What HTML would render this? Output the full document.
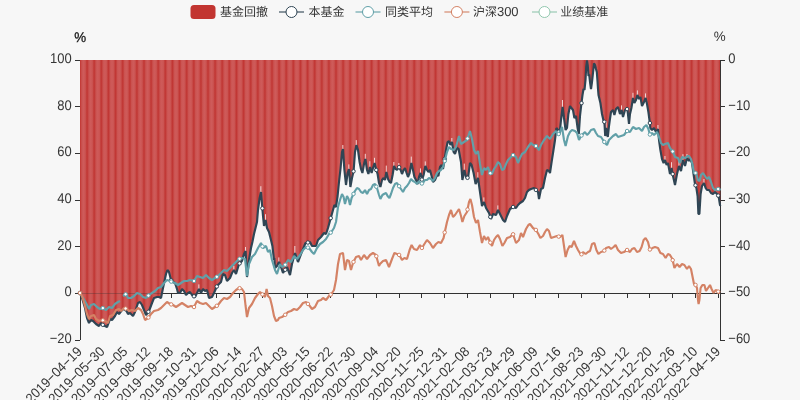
<!DOCTYPE html><html><head><meta charset="utf-8"><title>chart</title><style>html,body{margin:0;padding:0;background:#f7f7f7}svg{display:block}text{text-rendering:geometricPrecision;font-family:"Liberation Sans","Noto Sans CJK SC",sans-serif}</style></head><body><svg width="800" height="400" viewBox="0 0 800 400" font-size="12" fill="#363636">
<defs><linearGradient id="st" x1="80" x2="87.1111" y1="0" y2="0" gradientUnits="userSpaceOnUse" spreadMethod="repeat"><stop offset="0" stop-color="#c13634"/><stop offset="0.1" stop-color="#c4403d"/><stop offset="0.26" stop-color="#cb5452"/><stop offset="0.5" stop-color="#ce5b5a"/><stop offset="0.74" stop-color="#cb5452"/><stop offset="0.9" stop-color="#c4403d"/><stop offset="1" stop-color="#c13634"/></linearGradient></defs>
<rect width="800" height="400" fill="#f7f7f7"/>
<g stroke="#333" stroke-width="1" shape-rendering="crispEdges">
<line x1="80" y1="60" x2="80" y2="340"/>
<line x1="720" y1="60" x2="720" y2="340"/>
<line x1="80" y1="293.3" x2="720" y2="293.3"/>
<line x1="75" y1="60.0" x2="80" y2="60.0"/>
<line x1="720" y1="60.0" x2="725" y2="60.0"/>
<line x1="75" y1="106.7" x2="80" y2="106.7"/>
<line x1="720" y1="106.7" x2="725" y2="106.7"/>
<line x1="75" y1="153.3" x2="80" y2="153.3"/>
<line x1="720" y1="153.3" x2="725" y2="153.3"/>
<line x1="75" y1="200.0" x2="80" y2="200.0"/>
<line x1="720" y1="200.0" x2="725" y2="200.0"/>
<line x1="75" y1="246.7" x2="80" y2="246.7"/>
<line x1="720" y1="246.7" x2="725" y2="246.7"/>
<line x1="75" y1="293.3" x2="80" y2="293.3"/>
<line x1="720" y1="293.3" x2="725" y2="293.3"/>
<line x1="75" y1="340.0" x2="80" y2="340.0"/>
<line x1="720" y1="340.0" x2="725" y2="340.0"/>
<line x1="80.0" y1="293.3" x2="80.0" y2="298.3"/>
<line x1="102.8" y1="293.3" x2="102.8" y2="298.3"/>
<line x1="125.6" y1="293.3" x2="125.6" y2="298.3"/>
<line x1="148.4" y1="293.3" x2="148.4" y2="298.3"/>
<line x1="171.2" y1="293.3" x2="171.2" y2="298.3"/>
<line x1="194.0" y1="293.3" x2="194.0" y2="298.3"/>
<line x1="216.8" y1="293.3" x2="216.8" y2="298.3"/>
<line x1="239.6" y1="293.3" x2="239.6" y2="298.3"/>
<line x1="262.4" y1="293.3" x2="262.4" y2="298.3"/>
<line x1="285.2" y1="293.3" x2="285.2" y2="298.3"/>
<line x1="307.9" y1="293.3" x2="307.9" y2="298.3"/>
<line x1="330.7" y1="293.3" x2="330.7" y2="298.3"/>
<line x1="353.5" y1="293.3" x2="353.5" y2="298.3"/>
<line x1="376.3" y1="293.3" x2="376.3" y2="298.3"/>
<line x1="399.1" y1="293.3" x2="399.1" y2="298.3"/>
<line x1="421.9" y1="293.3" x2="421.9" y2="298.3"/>
<line x1="444.7" y1="293.3" x2="444.7" y2="298.3"/>
<line x1="467.5" y1="293.3" x2="467.5" y2="298.3"/>
<line x1="490.3" y1="293.3" x2="490.3" y2="298.3"/>
<line x1="513.1" y1="293.3" x2="513.1" y2="298.3"/>
<line x1="535.9" y1="293.3" x2="535.9" y2="298.3"/>
<line x1="558.7" y1="293.3" x2="558.7" y2="298.3"/>
<line x1="581.5" y1="293.3" x2="581.5" y2="298.3"/>
<line x1="604.3" y1="293.3" x2="604.3" y2="298.3"/>
<line x1="627.1" y1="293.3" x2="627.1" y2="298.3"/>
<line x1="649.9" y1="293.3" x2="649.9" y2="298.3"/>
<line x1="672.7" y1="293.3" x2="672.7" y2="298.3"/>
<line x1="695.5" y1="293.3" x2="695.5" y2="298.3"/>
<line x1="718.2" y1="293.3" x2="718.2" y2="298.3"/>
</g>
<path d="M80,60 L80.0,293.0 L82.0,298.0 L85.0,308.0 L87.0,318.0 L89.0,323.0 L91.0,320.0 L93.0,321.0 L96.0,324.0 L99.0,326.0 L101.0,323.0 L103.0,325.0 L107.0,327.0 L110.0,319.0 L112.0,320.0 L115.0,316.0 L117.0,312.0 L119.0,314.0 L122.0,310.0 L125.0,308.0 L128.0,314.0 L130.0,313.0 L133.0,316.0 L135.0,312.0 L138.0,303.0 L140.0,302.0 L142.0,305.0 L144.0,310.0 L146.0,315.0 L149.0,311.0 L152.0,303.0 L154.0,298.0 L157.0,297.0 L159.0,297.0 L161.0,298.0 L163.0,288.0 L166.0,274.0 L167.4,270.0 L169.0,272.0 L171.0,280.0 L173.0,282.0 L175.0,283.0 L177.0,289.0 L178.0,293.0 L180.0,293.0 L182.0,289.0 L184.0,291.0 L186.0,295.0 L188.0,293.0 L190.0,292.0 L192.0,295.0 L195.0,297.0 L197.0,293.0 L199.0,289.0 L201.0,293.0 L203.0,289.0 L205.0,291.0 L207.0,290.0 L209.0,298.0 L212.0,297.0 L214.0,293.0 L217.0,286.0 L219.0,284.0 L221.0,282.0 L223.0,274.0 L225.0,275.0 L227.0,281.0 L230.0,278.0 L232.0,273.0 L234.0,270.0 L236.0,274.0 L239.0,264.0 L242.0,261.0 L244.0,254.0 L245.6,251.0 L247.0,277.0 L249.0,260.0 L251.0,248.0 L252.4,242.0 L254.0,234.0 L256.0,226.0 L257.0,222.0 L258.0,210.0 L259.6,198.0 L261.0,192.0 L262.0,204.0 L263.0,216.0 L264.0,226.0 L265.6,220.0 L267.0,228.0 L269.0,232.0 L271.0,240.0 L272.4,246.0 L274.0,260.0 L274.3,258.0 L275.0,268.0 L277.0,266.0 L279.0,262.0 L281.0,267.0 L283.0,273.0 L285.0,270.0 L287.0,267.0 L290.0,275.0 L292.0,264.0 L295.0,253.0 L298.0,262.0 L301.0,254.0 L305.5,243.0 L310.0,242.0 L312.0,246.0 L316.0,246.0 L318.0,240.0 L321.0,237.0 L324.0,233.0 L326.0,234.0 L328.0,228.0 L333.0,210.0 L334.4,205.0 L336.0,207.0 L337.6,196.0 L339.0,182.0 L340.6,168.0 L342.0,152.0 L343.0,149.0 L344.4,170.0 L346.0,185.0 L347.6,173.0 L349.0,169.0 L350.4,187.0 L352.0,178.0 L353.6,171.0 L355.0,152.0 L356.4,145.2 L358.0,150.0 L359.6,162.0 L361.0,169.0 L362.4,173.0 L364.0,164.0 L365.4,159.0 L367.0,170.0 L368.4,174.0 L370.0,167.0 L371.6,173.0 L373.0,168.0 L374.6,163.0 L376.0,169.0 L377.6,174.0 L379.0,183.0 L380.4,187.0 L382.0,180.0 L383.6,178.0 L385.0,180.0 L386.4,172.0 L388.0,179.0 L389.6,182.0 L391.0,183.0 L392.6,175.0 L394.0,166.0 L395.6,169.0 L397.0,170.0 L399.0,167.0 L400.6,170.0 L402.0,174.0 L403.6,170.0 L405.0,168.0 L406.6,173.0 L408.0,177.0 L409.6,173.0 L411.4,163.0 L413.0,170.0 L414.4,177.0 L416.0,180.0 L417.6,184.0 L419.0,177.0 L420.6,173.0 L422.0,180.0 L423.6,175.0 L425.4,166.0 L427.0,170.0 L428.4,172.0 L430.0,170.0 L431.6,176.0 L433.0,182.0 L435.0,180.0 L437.0,175.0 L438.4,176.0 L440.0,167.0 L441.6,165.0 L443.0,169.0 L444.4,161.0 L446.0,150.0 L447.6,142.0 L449.0,141.0 L450.4,145.0 L452.0,142.0 L453.6,152.0 L455.0,154.0 L457.0,148.0 L458.6,149.0 L461.0,162.0 L462.4,180.0 L464.4,170.0 L466.0,177.0 L468.0,178.0 L470.0,163.0 L471.6,165.0 L473.6,173.0 L475.6,184.0 L478.0,178.0 L480.0,192.0 L482.0,206.0 L484.0,202.0 L486.0,208.0 L489.0,213.0 L491.0,219.0 L493.0,214.0 L496.0,215.0 L498.0,210.0 L500.0,214.0 L503.0,220.0 L505.0,222.0 L507.0,216.0 L510.0,209.0 L513.0,207.0 L516.0,208.0 L518.0,205.0 L520.0,203.0 L523.0,201.0 L525.0,198.0 L527.0,192.0 L529.0,190.0 L531.0,189.0 L534.0,188.0 L536.0,190.0 L538.0,192.0 L539.0,199.0 L541.0,189.0 L543.0,188.0 L545.0,178.0 L547.0,170.0 L549.0,171.0 L550.0,173.0 L551.6,162.0 L553.0,153.0 L555.0,140.0 L556.4,128.0 L558.0,130.0 L559.6,134.0 L561.0,120.0 L562.6,107.0 L564.0,118.0 L565.6,130.0 L567.0,128.0 L568.4,114.0 L570.0,106.0 L571.4,108.0 L573.0,110.0 L574.4,118.0 L576.0,116.0 L577.6,128.0 L578.8,134.0 L580.0,116.0 L581.6,102.0 L582.5,95.0 L583.5,89.0 L584.5,90.0 L585.5,80.0 L586.2,67.0 L587.0,60.4 L587.8,66.0 L588.5,76.0 L589.2,74.4 L590.0,82.0 L591.0,89.0 L592.0,82.0 L593.0,73.0 L594.0,63.4 L595.0,65.0 L596.0,69.0 L596.8,72.0 L597.5,81.0 L598.0,89.0 L598.5,95.0 L600.4,103.0 L602.0,114.0 L603.6,121.0 L604.4,122.0 L605.2,136.0 L606.2,128.0 L607.8,137.0 L609.0,126.0 L609.8,120.0 L611.0,112.0 L613.0,110.0 L614.4,115.0 L616.0,109.0 L618.0,107.0 L620.0,114.0 L621.6,110.0 L623.0,117.0 L625.0,110.0 L627.4,109.0 L629.0,124.0 L630.0,114.0 L631.4,108.0 L633.0,98.0 L634.4,103.0 L636.0,100.0 L637.4,95.0 L639.0,99.0 L640.4,97.0 L642.0,106.0 L644.0,102.0 L645.6,98.0 L647.0,104.0 L648.4,112.0 L650.0,124.0 L650.3,128.0 L652.0,130.0 L654.0,128.0 L656.0,132.0 L658.0,129.0 L659.0,140.0 L660.4,150.0 L662.0,159.0 L663.6,163.0 L665.0,160.0 L666.6,165.0 L668.0,163.0 L670.0,174.0 L671.6,168.0 L673.0,176.0 L675.0,185.0 L677.0,174.0 L679.0,166.0 L681.0,171.0 L683.0,160.0 L685.0,166.0 L687.0,158.0 L689.0,161.0 L690.0,158.6 L692.0,163.0 L693.4,173.0 L695.0,184.0 L696.4,188.0 L697.6,196.0 L698.4,214.0 L699.4,214.0 L700.6,194.0 L702.0,186.0 L704.0,183.0 L705.6,188.0 L707.0,190.0 L709.0,190.0 L711.0,193.0 L713.0,194.0 L715.0,192.0 L717.0,194.0 L718.6,196.0 L720.0,205.0 L720.3,206.0 L720,60 Z" fill="url(#st)"/>
<line x1="80" y1="293.3" x2="720" y2="293.3" stroke="#333" stroke-opacity="0.3" shape-rendering="crispEdges"/>
<text transform="translate(71.8,63.0) scale(1,1.08)" text-anchor="end" font-size="13">100</text>
<text transform="translate(71.8,109.7) scale(1,1.08)" text-anchor="end" font-size="13">80</text>
<text transform="translate(71.8,156.3) scale(1,1.08)" text-anchor="end" font-size="13">60</text>
<text transform="translate(71.8,203.0) scale(1,1.08)" text-anchor="end" font-size="13">40</text>
<text transform="translate(71.8,249.7) scale(1,1.08)" text-anchor="end" font-size="13">20</text>
<text transform="translate(71.8,296.3) scale(1,1.08)" text-anchor="end" font-size="13">0</text>
<text transform="translate(71.8,343.0) scale(1,1.08)" text-anchor="end" font-size="13">−20</text>
<text transform="translate(728.3,63.0) scale(1,1.08)" font-size="13">0</text>
<text transform="translate(728.3,109.7) scale(1,1.08)" font-size="13">−10</text>
<text transform="translate(728.3,156.3) scale(1,1.08)" font-size="13">−20</text>
<text transform="translate(728.3,203.0) scale(1,1.08)" font-size="13">−30</text>
<text transform="translate(728.3,249.7) scale(1,1.08)" font-size="13">−40</text>
<text transform="translate(728.3,296.3) scale(1,1.08)" font-size="13">−50</text>
<text transform="translate(728.3,343.0) scale(1,1.08)" font-size="13">−60</text>
<text transform="translate(80.2,41.5) scale(1.03,1.08)" text-anchor="middle" font-size="13" fill="#111" stroke="#111" stroke-width="0.25">%</text>
<text transform="translate(719.8,41.4) scale(1.03,1.06)" text-anchor="middle" font-size="13">%</text>
<text transform="translate(82.8,352.3) rotate(-45) scale(1,1.06)" text-anchor="end" font-size="13">2019−04−19</text>
<text transform="translate(105.6,352.3) rotate(-45) scale(1,1.06)" text-anchor="end" font-size="13">2019−05−30</text>
<text transform="translate(128.4,352.3) rotate(-45) scale(1,1.06)" text-anchor="end" font-size="13">2019−07−05</text>
<text transform="translate(151.2,352.3) rotate(-45) scale(1,1.06)" text-anchor="end" font-size="13">2019−08−12</text>
<text transform="translate(174.0,352.3) rotate(-45) scale(1,1.06)" text-anchor="end" font-size="13">2019−09−18</text>
<text transform="translate(196.8,352.3) rotate(-45) scale(1,1.06)" text-anchor="end" font-size="13">2019−10−31</text>
<text transform="translate(219.6,352.3) rotate(-45) scale(1,1.06)" text-anchor="end" font-size="13">2019−12−06</text>
<text transform="translate(242.4,352.3) rotate(-45) scale(1,1.06)" text-anchor="end" font-size="13">2020−01−14</text>
<text transform="translate(265.2,352.3) rotate(-45) scale(1,1.06)" text-anchor="end" font-size="13">2020−02−27</text>
<text transform="translate(288.0,352.3) rotate(-45) scale(1,1.06)" text-anchor="end" font-size="13">2020−04−03</text>
<text transform="translate(310.7,352.3) rotate(-45) scale(1,1.06)" text-anchor="end" font-size="13">2020−05−15</text>
<text transform="translate(333.5,352.3) rotate(-45) scale(1,1.06)" text-anchor="end" font-size="13">2020−06−22</text>
<text transform="translate(356.3,352.3) rotate(-45) scale(1,1.06)" text-anchor="end" font-size="13">2020−07−30</text>
<text transform="translate(379.1,352.3) rotate(-45) scale(1,1.06)" text-anchor="end" font-size="13">2020−09−04</text>
<text transform="translate(401.9,352.3) rotate(-45) scale(1,1.06)" text-anchor="end" font-size="13">2020−10−20</text>
<text transform="translate(424.7,352.3) rotate(-45) scale(1,1.06)" text-anchor="end" font-size="13">2020−11−25</text>
<text transform="translate(447.5,352.3) rotate(-45) scale(1,1.06)" text-anchor="end" font-size="13">2020−12−31</text>
<text transform="translate(470.3,352.3) rotate(-45) scale(1,1.06)" text-anchor="end" font-size="13">2021−02−08</text>
<text transform="translate(493.1,352.3) rotate(-45) scale(1,1.06)" text-anchor="end" font-size="13">2021−03−23</text>
<text transform="translate(515.9,352.3) rotate(-45) scale(1,1.06)" text-anchor="end" font-size="13">2021−04−29</text>
<text transform="translate(538.7,352.3) rotate(-45) scale(1,1.06)" text-anchor="end" font-size="13">2021−06−09</text>
<text transform="translate(561.5,352.3) rotate(-45) scale(1,1.06)" text-anchor="end" font-size="13">2021−07−16</text>
<text transform="translate(584.3,352.3) rotate(-45) scale(1,1.06)" text-anchor="end" font-size="13">2021−08−23</text>
<text transform="translate(607.1,352.3) rotate(-45) scale(1,1.06)" text-anchor="end" font-size="13">2021−09−30</text>
<text transform="translate(629.9,352.3) rotate(-45) scale(1,1.06)" text-anchor="end" font-size="13">2021−11−12</text>
<text transform="translate(652.7,352.3) rotate(-45) scale(1,1.06)" text-anchor="end" font-size="13">2021−12−20</text>
<text transform="translate(675.5,352.3) rotate(-45) scale(1,1.06)" text-anchor="end" font-size="13">2022−01−26</text>
<text transform="translate(698.3,352.3) rotate(-45) scale(1,1.06)" text-anchor="end" font-size="13">2022−03−10</text>
<text transform="translate(721.0,352.3) rotate(-45) scale(1,1.06)" text-anchor="end" font-size="13">2022−04−19</text>
<rect x="198.4" y="284.4" width="0.9" height="4.6" fill="#fbf4f4" opacity="0.9"/>
<rect x="233.4" y="266.0" width="0.9" height="4.0" fill="#fbf4f4" opacity="0.9"/>
<rect x="245.0" y="247.0" width="0.9" height="4.0" fill="#fbf4f4" opacity="0.9"/>
<rect x="260.4" y="186.2" width="0.9" height="5.8" fill="#fbf4f4" opacity="0.9"/>
<rect x="265.1" y="214.2" width="0.9" height="5.8" fill="#fbf4f4" opacity="0.9"/>
<rect x="278.4" y="257.4" width="0.9" height="4.6" fill="#fbf4f4" opacity="0.9"/>
<rect x="286.4" y="263.0" width="0.9" height="4.0" fill="#fbf4f4" opacity="0.9"/>
<rect x="294.4" y="246.0" width="0.9" height="7.0" fill="#fbf4f4" opacity="0.9"/>
<rect x="342.4" y="145.0" width="0.9" height="4.0" fill="#fbf4f4" opacity="0.9"/>
<rect x="348.4" y="164.4" width="0.9" height="4.6" fill="#fbf4f4" opacity="0.9"/>
<rect x="355.8" y="140.1" width="0.9" height="5.1" fill="#fbf4f4" opacity="0.9"/>
<rect x="364.8" y="153.8" width="0.9" height="5.2" fill="#fbf4f4" opacity="0.9"/>
<rect x="369.4" y="161.2" width="0.9" height="5.8" fill="#fbf4f4" opacity="0.9"/>
<rect x="374.1" y="157.8" width="0.9" height="5.2" fill="#fbf4f4" opacity="0.9"/>
<rect x="385.8" y="165.6" width="0.9" height="6.4" fill="#fbf4f4" opacity="0.9"/>
<rect x="393.4" y="162.0" width="0.9" height="4.0" fill="#fbf4f4" opacity="0.9"/>
<rect x="398.4" y="163.0" width="0.9" height="4.0" fill="#fbf4f4" opacity="0.9"/>
<rect x="410.8" y="156.6" width="0.9" height="6.4" fill="#fbf4f4" opacity="0.9"/>
<rect x="420.1" y="168.4" width="0.9" height="4.6" fill="#fbf4f4" opacity="0.9"/>
<rect x="424.8" y="161.4" width="0.9" height="4.6" fill="#fbf4f4" opacity="0.9"/>
<rect x="451.4" y="138.0" width="0.9" height="4.0" fill="#fbf4f4" opacity="0.9"/>
<rect x="463.8" y="163.6" width="0.9" height="6.4" fill="#fbf4f4" opacity="0.9"/>
<rect x="477.4" y="172.2" width="0.9" height="5.8" fill="#fbf4f4" opacity="0.9"/>
<rect x="483.4" y="197.4" width="0.9" height="4.6" fill="#fbf4f4" opacity="0.9"/>
<rect x="497.4" y="205.4" width="0.9" height="4.6" fill="#fbf4f4" opacity="0.9"/>
<rect x="562.1" y="100.0" width="0.9" height="7.0" fill="#fbf4f4" opacity="0.9"/>
<rect x="605.7" y="121.0" width="0.9" height="7.0" fill="#fbf4f4" opacity="0.9"/>
<rect x="621.1" y="105.4" width="0.9" height="4.6" fill="#fbf4f4" opacity="0.9"/>
<rect x="632.5" y="92.8" width="0.9" height="5.2" fill="#fbf4f4" opacity="0.9"/>
<rect x="636.9" y="90.4" width="0.9" height="4.6" fill="#fbf4f4" opacity="0.9"/>
<rect x="645.1" y="93.4" width="0.9" height="4.6" fill="#fbf4f4" opacity="0.9"/>
<rect x="657.5" y="125.0" width="0.9" height="4.0" fill="#fbf4f4" opacity="0.9"/>
<rect x="664.5" y="156.0" width="0.9" height="4.0" fill="#fbf4f4" opacity="0.9"/>
<rect x="671.1" y="162.2" width="0.9" height="5.8" fill="#fbf4f4" opacity="0.9"/>
<rect x="678.5" y="160.8" width="0.9" height="5.2" fill="#fbf4f4" opacity="0.9"/>
<rect x="682.5" y="154.2" width="0.9" height="5.8" fill="#fbf4f4" opacity="0.9"/>
<rect x="686.5" y="154.0" width="0.9" height="4.0" fill="#fbf4f4" opacity="0.9"/>
<rect x="703.5" y="179.0" width="0.9" height="4.0" fill="#fbf4f4" opacity="0.9"/>
<path d="M80.0,293.0 L82.0,298.0 L85.0,308.0 L87.0,318.0 L89.0,323.0 L91.0,320.0 L93.0,321.0 L96.0,324.0 L99.0,326.0 L101.0,323.0 L103.0,325.0 L107.0,327.0 L110.0,319.0 L112.0,320.0 L115.0,316.0 L117.0,312.0 L119.0,314.0 L122.0,310.0 L125.0,308.0 L128.0,314.0 L130.0,313.0 L133.0,316.0 L135.0,312.0 L138.0,303.0 L140.0,302.0 L142.0,305.0 L144.0,310.0 L146.0,315.0 L149.0,311.0 L152.0,303.0 L154.0,298.0 L157.0,297.0 L159.0,297.0 L161.0,298.0 L163.0,288.0 L166.0,274.0 L167.4,270.0 L169.0,272.0 L171.0,280.0 L173.0,282.0 L175.0,283.0 L177.0,289.0 L178.0,293.0 L180.0,293.0 L182.0,289.0 L184.0,291.0 L186.0,295.0 L188.0,293.0 L190.0,292.0 L192.0,295.0 L195.0,297.0 L197.0,293.0 L199.0,289.0 L201.0,293.0 L203.0,289.0 L205.0,291.0 L207.0,290.0 L209.0,298.0 L212.0,297.0 L214.0,293.0 L217.0,286.0 L219.0,284.0 L221.0,282.0 L223.0,274.0 L225.0,275.0 L227.0,281.0 L230.0,278.0 L232.0,273.0 L234.0,270.0 L236.0,274.0 L239.0,264.0 L242.0,261.0 L244.0,254.0 L245.6,251.0 L247.0,277.0 L249.0,260.0 L251.0,248.0 L252.4,242.0 L254.0,234.0 L256.0,226.0 L257.0,222.0 L258.0,210.0 L259.6,198.0 L261.0,192.0 L262.0,204.0 L263.0,216.0 L264.0,226.0 L265.6,220.0 L267.0,228.0 L269.0,232.0 L271.0,240.0 L272.4,246.0 L274.0,260.0 L274.3,258.0 L275.0,268.0 L277.0,266.0 L279.0,262.0 L281.0,267.0 L283.0,273.0 L285.0,270.0 L287.0,267.0 L290.0,275.0 L292.0,264.0 L295.0,253.0 L298.0,262.0 L301.0,254.0 L305.5,243.0 L310.0,242.0 L312.0,246.0 L316.0,246.0 L318.0,240.0 L321.0,237.0 L324.0,233.0 L326.0,234.0 L328.0,228.0 L333.0,210.0 L334.4,205.0 L336.0,207.0 L337.6,196.0 L339.0,182.0 L340.6,168.0 L342.0,152.0 L343.0,149.0 L344.4,170.0 L346.0,185.0 L347.6,173.0 L349.0,169.0 L350.4,187.0 L352.0,178.0 L353.6,171.0 L355.0,152.0 L356.4,145.2 L358.0,150.0 L359.6,162.0 L361.0,169.0 L362.4,173.0 L364.0,164.0 L365.4,159.0 L367.0,170.0 L368.4,174.0 L370.0,167.0 L371.6,173.0 L373.0,168.0 L374.6,163.0 L376.0,169.0 L377.6,174.0 L379.0,183.0 L380.4,187.0 L382.0,180.0 L383.6,178.0 L385.0,180.0 L386.4,172.0 L388.0,179.0 L389.6,182.0 L391.0,183.0 L392.6,175.0 L394.0,166.0 L395.6,169.0 L397.0,170.0 L399.0,167.0 L400.6,170.0 L402.0,174.0 L403.6,170.0 L405.0,168.0 L406.6,173.0 L408.0,177.0 L409.6,173.0 L411.4,163.0 L413.0,170.0 L414.4,177.0 L416.0,180.0 L417.6,184.0 L419.0,177.0 L420.6,173.0 L422.0,180.0 L423.6,175.0 L425.4,166.0 L427.0,170.0 L428.4,172.0 L430.0,170.0 L431.6,176.0 L433.0,182.0 L435.0,180.0 L437.0,175.0 L438.4,176.0 L440.0,167.0 L441.6,165.0 L443.0,169.0 L444.4,161.0 L446.0,150.0 L447.6,142.0 L449.0,141.0 L450.4,145.0 L452.0,142.0 L453.6,152.0 L455.0,154.0 L457.0,148.0 L458.6,149.0 L461.0,162.0 L462.4,180.0 L464.4,170.0 L466.0,177.0 L468.0,178.0 L470.0,163.0 L471.6,165.0 L473.6,173.0 L475.6,184.0 L478.0,178.0 L480.0,192.0 L482.0,206.0 L484.0,202.0 L486.0,208.0 L489.0,213.0 L491.0,219.0 L493.0,214.0 L496.0,215.0 L498.0,210.0 L500.0,214.0 L503.0,220.0 L505.0,222.0 L507.0,216.0 L510.0,209.0 L513.0,207.0 L516.0,208.0 L518.0,205.0 L520.0,203.0 L523.0,201.0 L525.0,198.0 L527.0,192.0 L529.0,190.0 L531.0,189.0 L534.0,188.0 L536.0,190.0 L538.0,192.0 L539.0,199.0 L541.0,189.0 L543.0,188.0 L545.0,178.0 L547.0,170.0 L549.0,171.0 L550.0,173.0 L551.6,162.0 L553.0,153.0 L555.0,140.0 L556.4,128.0 L558.0,130.0 L559.6,134.0 L561.0,120.0 L562.6,107.0 L564.0,118.0 L565.6,130.0 L567.0,128.0 L568.4,114.0 L570.0,106.0 L571.4,108.0 L573.0,110.0 L574.4,118.0 L576.0,116.0 L577.6,128.0 L578.8,134.0 L580.0,116.0 L581.6,102.0 L582.5,95.0 L583.5,89.0 L584.5,90.0 L585.5,80.0 L586.2,67.0 L587.0,60.4 L587.8,66.0 L588.5,76.0 L589.2,74.4 L590.0,82.0 L591.0,89.0 L592.0,82.0 L593.0,73.0 L594.0,63.4 L595.0,65.0 L596.0,69.0 L596.8,72.0 L597.5,81.0 L598.0,89.0 L598.5,95.0 L600.4,103.0 L602.0,114.0 L603.6,121.0 L604.4,122.0 L605.2,136.0 L606.2,128.0 L607.8,137.0 L609.0,126.0 L609.8,120.0 L611.0,112.0 L613.0,110.0 L614.4,115.0 L616.0,109.0 L618.0,107.0 L620.0,114.0 L621.6,110.0 L623.0,117.0 L625.0,110.0 L627.4,109.0 L629.0,124.0 L630.0,114.0 L631.4,108.0 L633.0,98.0 L634.4,103.0 L636.0,100.0 L637.4,95.0 L639.0,99.0 L640.4,97.0 L642.0,106.0 L644.0,102.0 L645.6,98.0 L647.0,104.0 L648.4,112.0 L650.0,124.0 L650.3,128.0 L652.0,130.0 L654.0,128.0 L656.0,132.0 L658.0,129.0 L659.0,140.0 L660.4,150.0 L662.0,159.0 L663.6,163.0 L665.0,160.0 L666.6,165.0 L668.0,163.0 L670.0,174.0 L671.6,168.0 L673.0,176.0 L675.0,185.0 L677.0,174.0 L679.0,166.0 L681.0,171.0 L683.0,160.0 L685.0,166.0 L687.0,158.0 L689.0,161.0 L690.0,158.6 L692.0,163.0 L693.4,173.0 L695.0,184.0 L696.4,188.0 L697.6,196.0 L698.4,214.0 L699.4,214.0 L700.6,194.0 L702.0,186.0 L704.0,183.0 L705.6,188.0 L707.0,190.0 L709.0,190.0 L711.0,193.0 L713.0,194.0 L715.0,192.0 L717.0,194.0 L718.6,196.0 L720.0,205.0 L720.3,206.0" fill="none" stroke="#2f4554" stroke-width="2.15" stroke-linejoin="bevel"/>
<circle cx="80.0" cy="293.0" r="1.75" fill="#fff" stroke="#2f4554" stroke-width="1"/>
<circle cx="102.8" cy="324.8" r="1.75" fill="#fff" stroke="#2f4554" stroke-width="1"/>
<circle cx="125.6" cy="309.2" r="1.75" fill="#fff" stroke="#2f4554" stroke-width="1"/>
<circle cx="148.4" cy="311.8" r="1.75" fill="#fff" stroke="#2f4554" stroke-width="1"/>
<circle cx="171.2" cy="280.2" r="1.75" fill="#fff" stroke="#2f4554" stroke-width="1"/>
<circle cx="194.0" cy="296.3" r="1.75" fill="#fff" stroke="#2f4554" stroke-width="1"/>
<circle cx="216.8" cy="286.5" r="1.75" fill="#fff" stroke="#2f4554" stroke-width="1"/>
<circle cx="239.6" cy="263.4" r="1.75" fill="#fff" stroke="#2f4554" stroke-width="1"/>
<circle cx="262.4" cy="208.3" r="1.75" fill="#fff" stroke="#2f4554" stroke-width="1"/>
<circle cx="285.2" cy="269.8" r="1.75" fill="#fff" stroke="#2f4554" stroke-width="1"/>
<circle cx="307.9" cy="242.5" r="1.75" fill="#fff" stroke="#2f4554" stroke-width="1"/>
<circle cx="330.7" cy="218.1" r="1.75" fill="#fff" stroke="#2f4554" stroke-width="1"/>
<circle cx="353.5" cy="171.3" r="1.75" fill="#fff" stroke="#2f4554" stroke-width="1"/>
<circle cx="376.3" cy="170.0" r="1.75" fill="#fff" stroke="#2f4554" stroke-width="1"/>
<circle cx="399.1" cy="167.2" r="1.75" fill="#fff" stroke="#2f4554" stroke-width="1"/>
<circle cx="421.9" cy="179.6" r="1.75" fill="#fff" stroke="#2f4554" stroke-width="1"/>
<circle cx="444.7" cy="158.9" r="1.75" fill="#fff" stroke="#2f4554" stroke-width="1"/>
<circle cx="467.5" cy="177.8" r="1.75" fill="#fff" stroke="#2f4554" stroke-width="1"/>
<circle cx="490.3" cy="216.9" r="1.75" fill="#fff" stroke="#2f4554" stroke-width="1"/>
<circle cx="513.1" cy="207.0" r="1.75" fill="#fff" stroke="#2f4554" stroke-width="1"/>
<circle cx="535.9" cy="189.9" r="1.75" fill="#fff" stroke="#2f4554" stroke-width="1"/>
<circle cx="558.7" cy="131.7" r="1.75" fill="#fff" stroke="#2f4554" stroke-width="1"/>
<circle cx="581.5" cy="103.1" r="1.75" fill="#fff" stroke="#2f4554" stroke-width="1"/>
<circle cx="604.3" cy="121.8" r="1.75" fill="#fff" stroke="#2f4554" stroke-width="1"/>
<circle cx="627.1" cy="109.1" r="1.75" fill="#fff" stroke="#2f4554" stroke-width="1"/>
<circle cx="649.9" cy="123.0" r="1.75" fill="#fff" stroke="#2f4554" stroke-width="1"/>
<circle cx="672.7" cy="174.0" r="1.75" fill="#fff" stroke="#2f4554" stroke-width="1"/>
<circle cx="695.5" cy="185.3" r="1.75" fill="#fff" stroke="#2f4554" stroke-width="1"/>
<circle cx="718.2" cy="195.6" r="1.75" fill="#fff" stroke="#2f4554" stroke-width="1"/>
<path d="M80.0,293.0 L83.0,298.0 L86.0,303.0 L89.0,309.0 L91.0,305.0 L94.0,304.0 L97.0,307.0 L100.0,309.0 L103.0,308.0 L106.0,310.0 L109.0,307.0 L112.0,308.0 L115.0,304.0 L118.0,302.0 L120.0,301.0 M123.0,296.0 L126.0,294.0 L128.0,298.0 L131.0,298.0 L134.0,296.0 L137.0,293.0 L140.0,294.0 L143.0,297.0 L146.0,298.0 L149.0,295.0 L152.0,293.0 L155.0,291.0 L158.0,288.0 L161.0,287.0 L164.0,283.0 L167.0,280.0 L170.0,281.0 L172.0,282.0 L175.0,283.0 L178.0,285.0 L181.0,283.0 L184.0,281.0 L187.0,281.0 L190.0,280.0 L194.0,281.0 L197.0,276.0 L200.0,277.0 L203.0,278.0 L206.0,275.0 L209.0,278.0 L212.0,280.0 L215.0,278.0 L218.0,276.0 L221.0,273.0 L224.0,270.0 L227.0,271.0 L230.0,268.0 L234.0,264.0 L239.0,259.0 L242.0,258.0 L245.0,259.0 L247.0,276.0 L249.0,264.0 L252.0,257.0 L255.0,254.0 L258.0,248.0 L261.0,243.0 L263.0,248.0 L266.0,246.0 L268.0,252.0 L270.0,250.0 L272.0,260.0 L275.0,270.0 L277.0,274.0 L280.0,264.0 L282.0,267.0 L285.0,265.0 L288.0,260.0 L291.0,262.0 L294.0,256.0 L297.0,259.0 L300.0,255.0 L303.0,250.0 L306.0,247.0 L309.0,248.0 L312.0,252.0 L314.0,254.0 L317.0,248.0 L320.0,244.0 L323.0,242.0 L326.0,239.0 L329.0,234.0 L331.4,232.0 L334.0,228.0 L336.0,222.0 L338.0,207.0 L340.0,200.0 L342.0,194.0 L343.6,197.0 L345.0,204.0 L347.0,196.0 L348.6,199.0 L350.0,205.0 L351.6,198.0 L353.0,195.0 L355.0,191.0 L357.0,188.0 L359.0,189.0 L361.0,192.0 L363.0,193.0 L365.0,190.0 L367.0,194.0 L369.0,190.0 L371.0,189.0 L373.0,185.0 L375.0,184.0 L377.0,188.0 L379.0,195.0 L380.4,199.0 L382.4,195.0 L384.0,194.0 L386.0,193.0 L387.6,196.0 L389.4,198.0 L391.0,194.0 L393.0,188.0 L395.0,184.0 L397.0,183.0 L399.0,186.0 L401.0,189.0 L403.0,192.0 L405.0,188.0 L407.0,186.0 L409.0,183.0 L411.0,179.0 L413.0,181.0 L415.0,182.0 L417.0,184.0 L419.0,181.0 L421.0,184.0 L423.0,183.0 L425.0,180.0 L427.0,180.0 L429.0,178.0 L431.0,179.0 L433.0,181.0 L435.0,178.0 L437.0,173.0 L439.0,171.0 L441.0,170.0 L443.0,167.0 L445.0,160.0 L447.0,152.0 L449.0,147.0 L451.0,149.0 L454.0,150.0 L456.0,147.0 L459.0,136.0 L461.0,144.0 L464.0,142.0 L467.0,140.0 L470.0,131.0 L472.0,139.0 L474.0,150.0 L476.0,154.0 L478.0,151.0 L480.0,164.0 L482.0,175.0 L484.0,168.0 L486.0,170.0 L488.0,167.0 L490.0,173.0 L492.0,174.0 L494.0,169.0 L496.0,166.0 L498.0,162.0 L500.0,164.0 L502.0,170.0 L504.0,169.0 L506.0,164.0 L508.0,160.0 L511.0,157.0 L513.0,155.0 L516.0,157.0 L518.0,163.0 L520.0,158.0 L522.0,154.0 L525.0,152.0 L528.0,147.0 L531.0,143.0 L533.0,145.0 L536.0,146.0 L539.0,150.0 L541.0,145.0 L544.0,140.0 L547.0,136.0 L550.0,139.0 L553.0,134.0 L556.0,131.0 L558.0,135.0 L560.0,132.0 L562.0,127.0 L564.0,140.0 L565.6,146.0 L568.0,136.0 L570.0,132.0 L572.0,130.0 L575.0,131.0 L577.0,133.0 L579.0,140.0 L581.0,136.0 L583.0,134.0 L585.0,132.0 L587.0,135.0 L589.0,133.0 L591.0,130.0 L594.0,129.0 L596.0,133.0 L598.0,136.0 L601.0,137.0 L603.0,140.0 L605.0,143.0 L607.0,145.0 L609.0,140.0 L611.0,138.0 L613.0,136.0 L616.0,134.0 L618.0,137.0 L621.0,136.0 L624.0,135.0 L627.0,131.0 L630.0,132.0 L633.0,127.0 L636.0,129.0 L639.0,128.0 L642.0,131.0 L644.0,127.0 L646.4,125.0 L648.4,129.0 L650.0,135.0 L652.0,133.0 L654.0,135.0 L657.0,132.0 L659.0,137.0 L661.0,143.0 L663.0,145.0 L665.0,144.0 L668.0,143.0 L670.0,148.0 L673.0,152.0 L675.0,157.0 L678.0,158.0 L680.0,163.0 L682.0,157.0 L685.0,158.0 L688.0,156.0 L689.0,156.0 L691.0,159.0 L692.4,164.0 L694.0,173.0 L696.0,173.0 L698.0,180.0 L699.6,181.0 L701.0,175.0 L703.0,173.0 L705.0,176.0 L707.0,179.0 L709.0,177.0 L711.0,182.0 L713.0,188.0 L715.0,190.0 L717.0,189.0 L718.6,189.0 L720.6,190.0" fill="none" stroke="#61a0a8" stroke-width="2.15" stroke-linejoin="bevel"/>
<circle cx="80.0" cy="293.0" r="1.75" fill="#fff" stroke="#61a0a8" stroke-width="1"/>
<circle cx="102.8" cy="308.1" r="1.75" fill="#fff" stroke="#61a0a8" stroke-width="1"/>
<circle cx="125.6" cy="294.3" r="1.75" fill="#fff" stroke="#61a0a8" stroke-width="1"/>
<circle cx="148.4" cy="295.6" r="1.75" fill="#fff" stroke="#61a0a8" stroke-width="1"/>
<circle cx="171.2" cy="281.6" r="1.75" fill="#fff" stroke="#61a0a8" stroke-width="1"/>
<circle cx="194.0" cy="281.0" r="1.75" fill="#fff" stroke="#61a0a8" stroke-width="1"/>
<circle cx="216.8" cy="276.8" r="1.75" fill="#fff" stroke="#61a0a8" stroke-width="1"/>
<circle cx="239.6" cy="258.8" r="1.75" fill="#fff" stroke="#61a0a8" stroke-width="1"/>
<circle cx="262.4" cy="246.4" r="1.75" fill="#fff" stroke="#61a0a8" stroke-width="1"/>
<circle cx="285.2" cy="264.7" r="1.75" fill="#fff" stroke="#61a0a8" stroke-width="1"/>
<circle cx="307.9" cy="247.6" r="1.75" fill="#fff" stroke="#61a0a8" stroke-width="1"/>
<circle cx="330.7" cy="232.6" r="1.75" fill="#fff" stroke="#61a0a8" stroke-width="1"/>
<circle cx="353.5" cy="193.9" r="1.75" fill="#fff" stroke="#61a0a8" stroke-width="1"/>
<circle cx="376.3" cy="186.7" r="1.75" fill="#fff" stroke="#61a0a8" stroke-width="1"/>
<circle cx="399.1" cy="186.2" r="1.75" fill="#fff" stroke="#61a0a8" stroke-width="1"/>
<circle cx="421.9" cy="183.5" r="1.75" fill="#fff" stroke="#61a0a8" stroke-width="1"/>
<circle cx="444.7" cy="161.0" r="1.75" fill="#fff" stroke="#61a0a8" stroke-width="1"/>
<circle cx="467.5" cy="138.5" r="1.75" fill="#fff" stroke="#61a0a8" stroke-width="1"/>
<circle cx="490.3" cy="173.2" r="1.75" fill="#fff" stroke="#61a0a8" stroke-width="1"/>
<circle cx="513.1" cy="155.1" r="1.75" fill="#fff" stroke="#61a0a8" stroke-width="1"/>
<circle cx="535.9" cy="146.0" r="1.75" fill="#fff" stroke="#61a0a8" stroke-width="1"/>
<circle cx="558.7" cy="134.0" r="1.75" fill="#fff" stroke="#61a0a8" stroke-width="1"/>
<circle cx="581.5" cy="135.5" r="1.75" fill="#fff" stroke="#61a0a8" stroke-width="1"/>
<circle cx="604.3" cy="141.9" r="1.75" fill="#fff" stroke="#61a0a8" stroke-width="1"/>
<circle cx="627.1" cy="131.0" r="1.75" fill="#fff" stroke="#61a0a8" stroke-width="1"/>
<circle cx="649.9" cy="134.5" r="1.75" fill="#fff" stroke="#61a0a8" stroke-width="1"/>
<circle cx="672.7" cy="151.5" r="1.75" fill="#fff" stroke="#61a0a8" stroke-width="1"/>
<circle cx="695.5" cy="173.0" r="1.75" fill="#fff" stroke="#61a0a8" stroke-width="1"/>
<circle cx="718.2" cy="189.0" r="1.75" fill="#fff" stroke="#61a0a8" stroke-width="1"/>
<path d="M80.0,293.0 L82.0,296.0 L85.0,306.0 L87.0,314.0 L89.0,319.0 L91.0,316.0 L94.0,315.0 L96.0,319.0 L99.0,321.0 L102.0,320.0 L105.0,321.0 L108.0,323.0 L110.0,316.0 L113.0,315.0 L116.0,310.0 L119.0,309.0 L121.0,311.0 L124.0,308.0 L127.0,309.0 L129.0,311.0 L132.0,310.0 L135.0,311.0 L138.0,308.0 L141.0,310.0 L143.0,314.0 L145.0,320.0 L148.0,318.0 L151.0,314.0 L154.0,311.0 L158.0,310.0 L161.0,308.0 L164.0,305.0 L167.0,302.0 L170.0,304.0 L173.0,305.0 L176.0,307.0 L179.0,305.0 L182.0,303.0 L185.0,305.0 L188.0,307.0 L191.0,306.0 L194.0,307.0 L197.0,301.0 L200.0,303.0 L203.0,304.0 L206.0,303.0 L209.0,306.0 L212.0,309.0 L215.0,307.0 L218.0,305.0 L221.0,301.0 L224.0,298.0 L227.0,299.0 L230.0,297.0 L233.0,293.0 L236.0,290.0 L239.0,288.0 L242.0,289.0 L244.0,292.0 L245.6,306.0 L247.0,317.0 L249.0,308.0 L252.0,304.0 L255.0,298.0 L258.0,294.0 L260.0,292.0 L263.0,295.0 L265.0,297.0 L266.6,289.0 L268.0,296.0 L270.0,298.0 L272.0,306.0 L274.0,316.0 L276.0,321.0 L278.0,320.0 L279.0,318.0 L282.0,317.0 L285.0,315.0 L288.0,312.0 L291.0,311.0 L294.0,309.0 L297.0,310.0 L300.0,307.0 L303.0,303.0 L306.0,302.0 L309.0,305.0 L312.0,309.0 L315.0,307.0 L318.0,301.0 L321.0,300.0 L323.0,298.0 L326.0,300.0 L329.0,296.0 L331.4,294.0 L334.0,290.0 L336.0,280.0 L338.0,264.0 L340.0,254.0 L343.0,253.0 L345.0,270.0 L347.0,260.0 L349.0,261.0 L351.0,270.0 L353.0,263.0 L356.0,257.0 L359.0,256.0 L361.0,260.0 L364.0,255.0 L367.0,259.0 L370.0,255.0 L373.0,253.0 L376.0,255.0 L379.0,266.0 L380.0,264.0 L383.0,261.0 L386.0,260.0 L389.0,267.0 L392.0,259.0 L394.4,253.0 L397.0,254.0 L399.4,255.0 L402.0,260.0 L404.4,258.0 L407.0,259.0 L409.6,250.0 L411.6,245.0 L414.0,249.0 L417.0,250.0 L420.0,245.0 L422.0,248.0 L424.4,244.0 L427.0,240.0 L430.0,243.0 L433.0,248.0 L436.0,244.0 L438.4,242.0 L441.0,243.0 L443.6,238.0 L445.0,231.0 L447.0,222.0 L449.0,215.0 L451.0,210.0 L453.0,217.0 L455.0,215.0 L457.0,212.0 L459.0,209.0 L461.0,216.0 L462.4,222.0 L464.4,216.0 L467.0,212.0 L469.0,202.0 L470.4,199.0 L472.0,205.0 L474.0,217.0 L476.0,223.0 L478.0,220.0 L480.0,232.0 L482.0,243.0 L484.0,236.0 L486.0,240.0 L488.0,237.0 L490.0,242.0 L492.0,246.0 L494.0,240.0 L496.0,237.0 L498.0,235.0 L500.0,239.0 L502.4,246.0 L504.4,243.0 L507.0,238.0 L510.0,237.0 L513.0,234.0 L516.0,243.0 L519.0,240.0 L521.0,233.0 L523.0,237.0 L526.0,229.0 L528.4,225.0 L530.0,224.0 L533.0,228.0 L536.0,230.0 L538.4,234.0 L540.4,238.0 L543.0,236.0 L545.0,232.0 L547.0,229.0 L549.0,231.0 L551.0,238.0 L554.0,237.0 L557.0,236.0 L560.0,237.0 L562.4,235.0 L564.0,246.0 L565.6,257.0 L567.6,250.0 L569.6,246.0 L571.6,247.0 L574.0,241.0 L576.0,246.0 L578.0,250.0 L581.0,255.0 L583.0,252.0 L585.6,254.0 L588.0,252.0 L590.0,251.0 L592.0,244.0 L594.4,243.0 L596.4,250.0 L598.4,254.0 L601.0,252.0 L604.0,251.0 L606.0,248.0 L609.0,247.0 L611.0,249.0 L613.6,247.0 L615.6,245.0 L618.0,250.0 L621.0,253.0 L624.0,252.0 L627.0,250.0 L630.0,252.0 L632.0,249.0 L634.4,248.0 L637.0,252.0 L639.6,251.0 L641.6,247.0 L643.6,240.0 L645.6,238.0 L648.0,242.0 L650.0,250.0 L652.4,248.0 L655.0,247.0 L658.0,248.0 L660.4,253.0 L663.0,254.0 L665.6,258.0 L668.0,254.0 L670.0,255.0 L672.4,259.0 L674.4,268.0 L677.0,264.0 L679.6,267.0 L682.0,264.0 L684.4,265.0 L687.0,269.0 L689.0,266.0 L691.0,269.0 L692.4,276.0 L694.0,284.0 L695.6,285.0 L697.0,288.0 L698.0,300.0 L698.6,304.0 L699.4,300.0 L700.6,288.0 L702.4,285.0 L704.4,285.0 L706.0,291.0 L708.0,288.0 L710.0,285.0 L711.6,289.0 L713.6,293.0 L715.6,290.0 L717.6,291.0 L719.6,293.0 L720.0,293.0" fill="none" stroke="#d48265" stroke-width="2.15" stroke-linejoin="bevel"/>
<circle cx="80.0" cy="293.0" r="1.75" fill="#fff" stroke="#d48265" stroke-width="1"/>
<circle cx="102.8" cy="320.3" r="1.75" fill="#fff" stroke="#d48265" stroke-width="1"/>
<circle cx="125.6" cy="308.5" r="1.75" fill="#fff" stroke="#d48265" stroke-width="1"/>
<circle cx="148.4" cy="317.5" r="1.75" fill="#fff" stroke="#d48265" stroke-width="1"/>
<circle cx="171.2" cy="304.4" r="1.75" fill="#fff" stroke="#d48265" stroke-width="1"/>
<circle cx="194.0" cy="307.0" r="1.75" fill="#fff" stroke="#d48265" stroke-width="1"/>
<circle cx="216.8" cy="305.8" r="1.75" fill="#fff" stroke="#d48265" stroke-width="1"/>
<circle cx="239.6" cy="288.2" r="1.75" fill="#fff" stroke="#d48265" stroke-width="1"/>
<circle cx="262.4" cy="294.4" r="1.75" fill="#fff" stroke="#d48265" stroke-width="1"/>
<circle cx="285.2" cy="314.8" r="1.75" fill="#fff" stroke="#d48265" stroke-width="1"/>
<circle cx="307.9" cy="303.9" r="1.75" fill="#fff" stroke="#d48265" stroke-width="1"/>
<circle cx="330.7" cy="294.6" r="1.75" fill="#fff" stroke="#d48265" stroke-width="1"/>
<circle cx="353.5" cy="261.9" r="1.75" fill="#fff" stroke="#d48265" stroke-width="1"/>
<circle cx="376.3" cy="256.2" r="1.75" fill="#fff" stroke="#d48265" stroke-width="1"/>
<circle cx="399.1" cy="254.9" r="1.75" fill="#fff" stroke="#d48265" stroke-width="1"/>
<circle cx="421.9" cy="247.9" r="1.75" fill="#fff" stroke="#d48265" stroke-width="1"/>
<circle cx="444.7" cy="232.4" r="1.75" fill="#fff" stroke="#d48265" stroke-width="1"/>
<circle cx="467.5" cy="209.5" r="1.75" fill="#fff" stroke="#d48265" stroke-width="1"/>
<circle cx="490.3" cy="242.6" r="1.75" fill="#fff" stroke="#d48265" stroke-width="1"/>
<circle cx="513.1" cy="234.3" r="1.75" fill="#fff" stroke="#d48265" stroke-width="1"/>
<circle cx="535.9" cy="229.9" r="1.75" fill="#fff" stroke="#d48265" stroke-width="1"/>
<circle cx="558.7" cy="236.6" r="1.75" fill="#fff" stroke="#d48265" stroke-width="1"/>
<circle cx="581.5" cy="254.3" r="1.75" fill="#fff" stroke="#d48265" stroke-width="1"/>
<circle cx="604.3" cy="250.6" r="1.75" fill="#fff" stroke="#d48265" stroke-width="1"/>
<circle cx="627.1" cy="250.0" r="1.75" fill="#fff" stroke="#d48265" stroke-width="1"/>
<circle cx="649.9" cy="249.5" r="1.75" fill="#fff" stroke="#d48265" stroke-width="1"/>
<circle cx="672.7" cy="260.2" r="1.75" fill="#fff" stroke="#d48265" stroke-width="1"/>
<circle cx="695.5" cy="284.9" r="1.75" fill="#fff" stroke="#d48265" stroke-width="1"/>
<circle cx="718.2" cy="291.6" r="1.75" fill="#fff" stroke="#d48265" stroke-width="1"/>
<rect x="190.5" y="5" width="25" height="14" rx="3.5" fill="#c23531"/>
<text x="219.9" y="16.3">基金回撤</text>
<line x1="279" y1="12" x2="304" y2="12" stroke="#2f4554" stroke-width="2" stroke-opacity="0.55"/>
<circle cx="291.5" cy="12" r="5.5" fill="#fff" stroke="#2f4554" stroke-width="1"/>
<text x="308.4" y="16.3">本基金</text>
<line x1="355.5" y1="12" x2="380.5" y2="12" stroke="#61a0a8" stroke-width="2" stroke-opacity="0.55"/>
<circle cx="368.0" cy="12" r="5.5" fill="#fff" stroke="#61a0a8" stroke-width="1"/>
<text x="384.9" y="16.3">同类平均</text>
<line x1="444.4" y1="12" x2="469.4" y2="12" stroke="#d48265" stroke-width="2" stroke-opacity="0.55"/>
<circle cx="456.9" cy="12" r="5.5" fill="#fff" stroke="#d48265" stroke-width="1"/>
<text x="472.9" y="16.3">沪深<tspan font-size="13">300</tspan></text>
<line x1="532" y1="12" x2="557" y2="12" stroke="#91c7ae" stroke-width="2" stroke-opacity="0.55"/>
<circle cx="544.5" cy="12" r="5.5" fill="#fff" stroke="#91c7ae" stroke-width="1"/>
<text x="560.2" y="16.3">业绩基准</text>
</svg></body></html>
